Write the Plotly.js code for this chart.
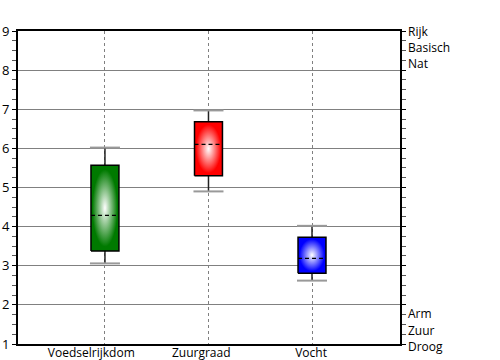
<!DOCTYPE html>
<html>
<head>
<meta charset="utf-8">
<script src="https://cdn.plot.ly/plotly-3.0.1.min.js"></script>
<style>html,body{margin:0;padding:0;background:#fff;}#chart{width:500px;height:360px;}</style>
</head>
<body>
<div id="chart"></div>
<script>
const categories = ['Voedselrijkdom', 'Zuurgraad', 'Vocht'];
const upperWhisker = [6.02, 6.97, 4.02];
const q3 = [5.57, 6.68, 3.73];
const meanValues = [4.29, 6.10, 3.19];
const q1 = [3.38, 5.30, 2.81];
const lowerWhisker = [3.06, 4.90, 2.62];
const boxColors = ['#007a00', '#ff0000', '#0000ff'];
const yTickValues = [1, 2, 3, 4, 5, 6, 7, 8, 9];
const rightLabels = ['Rijk', 'Basisch', 'Nat', 'Arm', 'Zuur', 'Droog'];
const rightLabelPos = [9.0, 8.57, 8.16, 1.79, 1.35, 0.93];

const FONT = 'Open Sans, sans-serif';
const Y_RANGE = [1, 9];
const HW = 0.135, CW = 0.145;
const traces = [];
categories.forEach((c, i) => {
  const x = i;
  traces.push({
    type: 'scatter', mode: 'lines', showlegend: false, hoverinfo: 'skip',
    x: [x, x, null, x, x], y: [q3[i], upperWhisker[i], null, q1[i], lowerWhisker[i]],
    line: {color: '#222', width: 1.5}
  });
  traces.push({
    type: 'scatter', mode: 'lines', showlegend: false, hoverinfo: 'skip',
    x: [x - CW, x + CW, null, x - CW, x + CW],
    y: [upperWhisker[i], upperWhisker[i], null, lowerWhisker[i], lowerWhisker[i]],
    line: {color: '#999', width: 2}
  });
  traces.push({
    type: 'scatter', mode: 'lines', showlegend: false, hoverinfo: 'skip',
    x: [x - HW, x + HW, x + HW, x - HW, x - HW],
    y: [q1[i], q1[i], q3[i], q3[i], q1[i]],
    fill: 'toself',
    fillgradient: {type: 'radial', colorscale: [[0, '#ffffff'], [0.9, boxColors[i]], [1, boxColors[i]]]},
    line: {color: '#000', width: 1.5}
  });
  traces.push({
    type: 'scatter', mode: 'lines', showlegend: false, hoverinfo: 'skip',
    x: [x - HW, x + HW], y: [meanValues[i], meanValues[i]],
    line: {color: '#000', width: 1.2, dash: '4px,3px'}
  });
});
traces.push({
  type: 'scatter', mode: 'markers', xaxis: 'x2', showlegend: false, hoverinfo: 'skip',
  x: categories.map((c, i) => i), y: meanValues, marker: {opacity: 0}
});

const layout = {
  width: 500, height: 360,
  margin: {l: 18, r: 100, t: 31, b: 16},
  paper_bgcolor: '#fff', plot_bgcolor: '#fff',
  font: {family: FONT, size: 12, color: '#000'},
  showlegend: false,
  xaxis: {
    range: [-0.84, 2.85], tickvals: [0, 1, 2], showticklabels: false, ticks: '',
    showgrid: true, gridcolor: '#808080', gridwidth: 1, griddash: '3px,3px',
    showline: true, linecolor: '#000', linewidth: 2, mirror: true, zeroline: false
  },
  xaxis2: {
    overlaying: 'x', anchor: 'y', side: 'bottom',
    range: [-0.667, 2.809], tickvals: [0, 1, 2], ticktext: categories,
    showgrid: false, zeroline: false, showline: false, ticks: '',
    tickfont: {family: FONT, size: 12, color: '#000'}
  },
  yaxis: {
    range: Y_RANGE, tickvals: yTickValues, ticktext: yTickValues.map(String),
    showgrid: true, gridcolor: '#808080', gridwidth: 1, zeroline: false,
    showline: true, linecolor: '#000', linewidth: 2, mirror: 'allticks',
    ticks: 'outside', ticklen: 4, tickcolor: '#000', tickwidth: 1,
    minor: {dtick: 0.25, ticks: 'outside', ticklen: 2, tickcolor: '#555', showgrid: false},
    tickfont: {family: FONT, size: 13, color: '#000'}
  },
  annotations: rightLabels.map((t, i) => ({
    xref: 'paper', yref: 'paper', x: 1,
    y: (rightLabelPos[i] - Y_RANGE[0]) / (Y_RANGE[1] - Y_RANGE[0]),
    xanchor: 'left', yanchor: 'middle',
    xshift: 6, text: t, showarrow: false, font: {family: FONT, size: 12, color: '#000'}
  }))
};

Plotly.newPlot('chart', traces, layout, {staticPlot: true, displayModeBar: false});
</script>
</body>
</html>
